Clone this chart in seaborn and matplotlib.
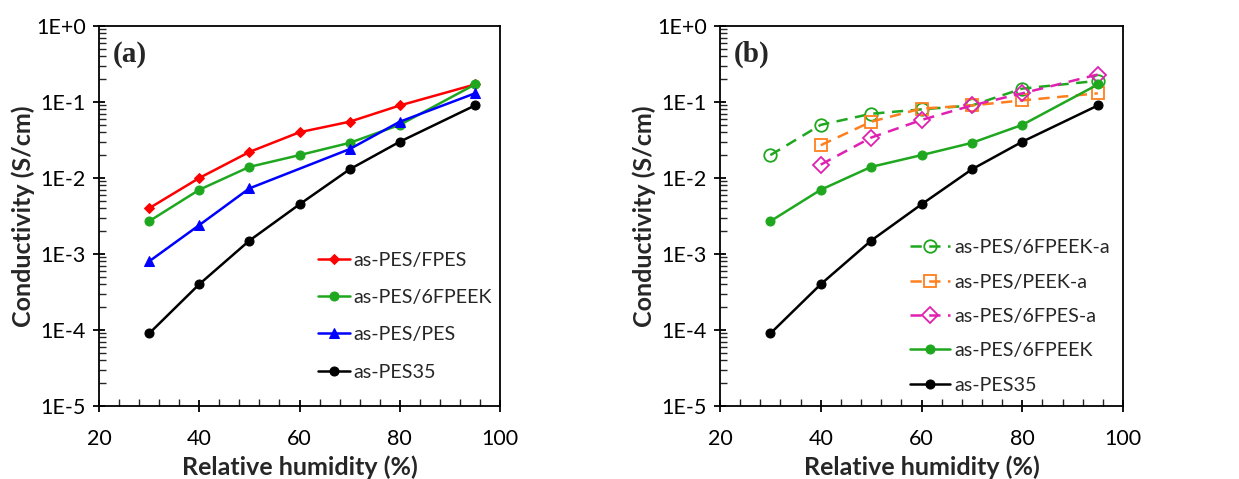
import numpy as np
import pandas as pd
import matplotlib
matplotlib.use("Agg")
import matplotlib.pyplot as plt
import matplotlib.ticker as mtick
import seaborn as sns

sns.set_style("ticks")
plt.rcParams['font.family'] = ['Lato', 'DejaVu Sans']

# Data
rh = [30, 40, 50, 60, 70, 80, 95]
rh_pes = [30, 40, 50, 70, 80, 95]
rh_a = [40, 50, 60, 70, 80, 95]

fpes = [0.004, 0.010, 0.022, 0.040, 0.055, 0.090, 0.17]
fpeek6 = [0.0027, 0.007, 0.014, 0.020, 0.029, 0.050, 0.17]
pes = [0.0008, 0.0024, 0.0073, 0.024, 0.055, 0.13]
pes35 = [0.00009, 0.0004, 0.0015, 0.0045, 0.013, 0.030, 0.090]

fpeek6_a = [0.020, 0.050, 0.070, 0.080, 0.090, 0.15, 0.19]
peek_a = [0.027, 0.055, 0.082, 0.090, 0.105, 0.13]
fpes6_a = [0.015, 0.034, 0.058, 0.090, 0.13, 0.23]

y_ticks = [1e-5, 1e-4, 1e-3, 1e-2, 1e-1, 1e0]
y_ticklabels = ['1E-5', '1E-4', '1E-3', '1E-2', '1E-1', '1E+0']
x_ticks = [20, 40, 60, 80, 100]

fig = plt.figure(figsize=(12.39, 4.79), dpi=100)
ax_a = fig.add_axes([99 / 1239, 73 / 479, 401 / 1239, 380 / 479])
ax_b = fig.add_axes([720 / 1239, 73 / 479, 403 / 1239, 380 / 479])


def draw(ax, x, y, label, color, marker, ms, dashed=False, hollow=False):
    df = pd.DataFrame({'rh': x, 'sigma': y})
    kw = dict(marker=marker, markersize=ms, color=color, linewidth=1.8,
              markeredgecolor=color, label=label)
    if hollow:
        kw['markerfacecolor'] = 'none'
        kw['markeredgewidth'] = 1.3
    if dashed:
        kw['linestyle'] = (0, (4.5, 3))
    sns.lineplot(data=df, x='rh', y='sigma', ax=ax, **kw)


def style(ax, letter, leg_anchor, handlelen, spacing):
    ax.set_yscale('log')
    ax.set_xlim(20, 100)
    ax.set_ylim(1e-5, 1)
    ax.set_xticks(x_ticks)
    ax.xaxis.set_minor_locator(mtick.MultipleLocator(4))
    ax.set_yticks(y_ticks)
    ax.set_yticklabels(y_ticklabels)
    ax.yaxis.set_minor_locator(mtick.LogLocator(base=10, subs=np.arange(2, 10), numticks=20))
    ax.yaxis.set_minor_formatter(mtick.NullFormatter())
    ax.tick_params(which='major', direction='inout', length=9, width=1.3,
                   labelsize=15.5, pad=5, colors='black')
    ax.tick_params(which='minor', direction='in', length=5, width=1.0)
    ax.tick_params(axis='x', which='major', pad=12)
    for s in ax.spines.values():
        s.set_linewidth(1.3)
        s.set_color('black')
    ax.set_xlabel('Relative humidity (%)', fontsize=18, fontweight='bold')
    ax.xaxis.set_label_coords(0.5, -0.13)
    ax.set_ylabel('Conductivity (S/cm)', fontsize=18, fontweight='bold', labelpad=1)
    ax.text(0.035, 0.925, letter, transform=ax.transAxes, fontsize=21,
            fontweight='bold', family='Liberation Serif', va='center', ha='left')
    ax.legend(loc='upper left', bbox_to_anchor=leg_anchor, frameon=False,
              fontsize=14.2, handlelength=handlelen, handletextpad=0.2,
              labelspacing=spacing, borderpad=0, borderaxespad=0)


# Panel (a)
draw(ax_a, rh, fpes, 'as-PES/FPES', '#ff0000', 'D', 5.5)
draw(ax_a, rh, fpeek6, 'as-PES/6FPEEK', '#1fa71f', 'o', 6.5)
draw(ax_a, rh_pes, pes, 'as-PES/PES', '#0000ff', '^', 7.5)
draw(ax_a, rh, pes35, 'as-PES35', '#000000', 'o', 6.5)
style(ax_a, '(a)', (0.546, 0.406), 1.6, 1.03)

# Panel (b)
draw(ax_b, rh, fpeek6_a, 'as-PES/6FPEEK-a', '#1fa71f', 'o', 9, dashed=True, hollow=True)
draw(ax_b, rh_a, peek_a, 'as-PES/PEEK-a', '#ff7f1e', 's', 8, dashed=True, hollow=True)
draw(ax_b, rh_a, fpes6_a, 'as-PES/6FPES-a', '#e020b0', 'D', 8, dashed=True, hollow=True)
draw(ax_b, rh, fpeek6, 'as-PES/6FPEEK', '#1fa71f', 'o', 6.5)
draw(ax_b, rh, pes35, 'as-PES35', '#000000', 'o', 6.5)
style(ax_b, '(b)', (0.471, 0.439), 2.05, 0.88)

fig.savefig('out.png', dpi=100)
